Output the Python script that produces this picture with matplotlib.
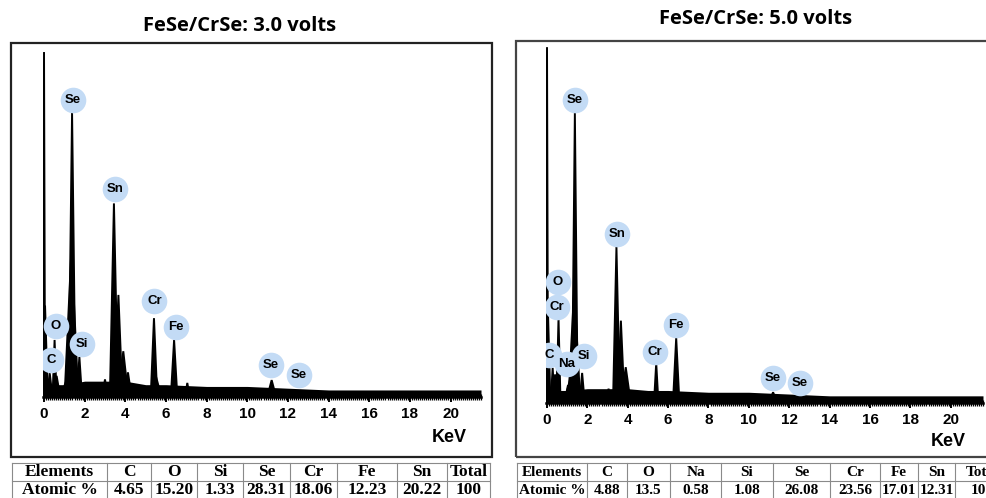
"""EDS spectra of FeSe/CrSe at two bias voltages, with atomic % tables."""

import matplotlib.pyplot as plt
from matplotlib.patches import Rectangle
from matplotlib.lines import Line2D
from matplotlib.ticker import MultipleLocator

W, H = 987, 498

# ---- data: 3.0 V spectrum ------------------------------------------------
peaks_3v_energy = [0.0, 0.05, 0.28, 0.52, 0.62, 1.25, 1.35, 1.38, 1.74, 3.0,
                   3.44, 3.66, 3.9, 4.13, 5.41, 5.5, 6.40, 7.05, 11.2, 12.5]
peaks_3v_height = [98, 26, 6.8, 16.2, 6, 7, 42, 80.7, 11.4, 5,
                   55, 29, 13, 7, 22.4, 6, 16.2, 4, 4.8, 1.5]
peaks_3v_width = [0.05, 0.14, 0.14, 0.1, 0.18, 0.45, 0.34, 0.17, 0.13, 0.14,
                  0.2, 0.2, 0.25, 0.18, 0.16, 0.28, 0.16, 0.12, 0.22, 0.18]
bg_3v_energy = [0, 0.2, 1, 2, 3, 4, 5, 6, 8, 10, 12, 14, 21.5]
bg_3v_level = [3, 3.5, 3.5, 4.5, 4.5, 4.5, 3.5, 3.5, 3, 3, 2.5, 2, 2]

labels_3v_text = ["Se", "Sn", "Cr", "Fe", "O", "Si", "C", "Se", "Se"]
labels_3v_x = [1.43, 3.51, 5.43, 6.47, 0.59, 1.88, 0.35, 11.16, 12.54]
labels_3v_y = [84.4, 59.0, 27.3, 19.9, 20.2, 15.1, 10.5, 9.1, 6.2]

# ---- data: 5.0 V spectrum ------------------------------------------------
peaks_5v_energy = [0.0, 0.05, 0.28, 0.4, 0.52, 0.57, 1.04, 1.2, 1.35, 1.38,
                   1.74, 3.05, 3.44, 3.66, 3.9, 5.41, 5.95, 6.40, 7.06, 11.2, 12.5]
peaks_5v_height = [99.4, 25, 9.8, 8, 10, 23.7, 5, 8, 32, 81,
                   8.4, 4, 43.6, 23, 10, 11.2, 3, 18.2, 3, 3, 1.5]
peaks_5v_width = [0.05, 0.12, 0.1, 0.1, 0.12, 0.1, 0.18, 0.35, 0.3, 0.14,
                  0.13, 0.12, 0.17, 0.18, 0.25, 0.11, 0.12, 0.16, 0.12, 0.22, 0.15]
bg_5v_energy = [0, 0.2, 1, 2, 3, 4, 5, 6, 8, 10, 12, 14, 21.6]
bg_5v_level = [3, 3.5, 3.5, 4, 4, 4, 3.5, 3.5, 3, 3, 2.5, 2, 2]

labels_5v_text = ["Se", "Sn", "O", "Cr", "C", "Na", "Si", "Cr", "Fe", "Se", "Se"]
labels_5v_x = [1.39, 3.47, 0.54, 0.50, 0.10, 0.99, 1.83, 5.35, 6.39, 11.19, 12.52]
labels_5v_y = [84.6, 47.2, 33.8, 26.8, 13.4, 10.9, 13.1, 14.2, 21.8, 7.0, 5.6]

# ---- data: composition tables -------------------------------------------
table_3v_header = ["Elements", "C", "O", "Si", "Se", "Cr", "Fe", "Sn", "Total"]
table_3v_values = ["Atomic %", "4.65", "15.20", "1.33", "28.31", "18.06",
                   "12.23", "20.22", "100"]
table_5v_header = ["Elements", "C", "O", "Na", "Si", "Se", "Cr", "Fe", "Sn", "Total"]
table_5v_values = ["Atomic %", "4.88", "13.5", "0.58", "1.08", "26.08", "23.56",
                   "17.01", "12.31", "100"]

BUBBLE = "#c3dbf5"


def fx(px):
    return px / W


def fy(py):
    return 1 - py / H


def draw_spectrum(fig, box, xmax, energy, height, width, bg_e, bg_l,
                  lab_text, lab_x, lab_y):
    left, top, right, bottom = box
    ax = fig.add_axes([fx(left), fy(bottom), fx(right - left), fy(top) - fy(bottom)])
    ax.set_xlim(-0.05, xmax)
    ax.set_ylim(0, 100)
    ax.fill_between(bg_e, 0, bg_l, color="black", lw=0)
    for e, h, w in zip(energy, height, width):
        ax.fill([e - w, e, e + w], [0, h, 0], color="black", lw=1.4,
                joinstyle="miter")
    ax.scatter(lab_x, lab_y, s=340, color=BUBBLE, zorder=3, lw=0)
    for t, x, y in zip(lab_text, lab_x, lab_y):
        ax.text(x, y, t, ha="center", va="center", fontsize=9.5,
                fontweight="bold", family="Liberation Sans", zorder=4)
    for side in ("left", "right", "top"):
        ax.spines[side].set_visible(False)
    ax.spines["bottom"].set_linewidth(1.8)
    ax.set_yticks([])
    ax.xaxis.set_major_locator(MultipleLocator(2))
    ax.xaxis.set_minor_locator(MultipleLocator(0.1))
    ax.tick_params(axis="x", which="major", direction="inout", length=7, width=1.4,
                   pad=4, labelsize=11)
    ax.tick_params(axis="x", which="minor", direction="inout", length=4.5, width=0.9)
    for lab in ax.get_xticklabels():
        lab.set_fontweight("bold")
        lab.set_family("Liberation Sans")
    ax.patch.set_alpha(0)
    return ax


def draw_table(fig, edges, top, row_h, header, values, size):
    rows = [header, values]
    color = "#8a8a8a"
    for y in (top, top + row_h, top + 2 * row_h):
        fig.add_artist(Line2D([fx(edges[0]), fx(edges[-1])], [fy(y), fy(y)],
                              color=color, lw=0.8))
    for x in edges:
        fig.add_artist(Line2D([fx(x), fx(x)], [fy(top), fy(top + 2 * row_h)],
                              color=color, lw=0.8))
    for r, row in enumerate(rows):
        yc = top + row_h * (r + 0.5)
        for i, txt in enumerate(row):
            xc = (edges[i] + edges[i + 1]) / 2
            fig.text(fx(xc), fy(yc), txt, ha="center", va="center", fontsize=size,
                     fontweight="bold", family="Liberation Serif")


fig = plt.figure(figsize=(W / 100, H / 100), dpi=100)

# panel frames
fig.add_artist(Rectangle((fx(11), fy(457)), fx(492 - 11), fy(43) - fy(457),
                         fill=False, lw=1.6, ec="#222222"))
fig.add_artist(Rectangle((fx(516), fy(457)), fx(1000 - 516), fy(41) - fy(457),
                         fill=False, lw=1.6, ec="#444444"))

fig.text(fx(240), fy(26), "FeSe/CrSe: 3.0 volts", ha="center", va="center",
         fontsize=14.5, fontweight="bold", family="Open Sans")
fig.text(fx(756), fy(19), "FeSe/CrSe: 5.0 volts", ha="center", va="center",
         fontsize=14.5, fontweight="bold", family="Open Sans")

ax1 = draw_spectrum(fig, (43, 45, 481, 397), 21.5, peaks_3v_energy, peaks_3v_height,
                    peaks_3v_width, bg_3v_energy, bg_3v_level,
                    labels_3v_text, labels_3v_x, labels_3v_y)
ax2 = draw_spectrum(fig, (546, 45, 983, 403), 21.6, peaks_5v_energy, peaks_5v_height,
                    peaks_5v_width, bg_5v_energy, bg_5v_level,
                    labels_5v_text, labels_5v_x, labels_5v_y)

fig.text(fx(449), fy(437), "KeV", ha="center", va="center", fontsize=13,
         fontweight="bold", family="Liberation Sans")
fig.text(fx(948), fy(441), "KeV", ha="center", va="center", fontsize=13,
         fontweight="bold", family="Liberation Sans")

draw_table(fig, [12, 107, 151, 197, 243, 290, 337, 397, 447, 490], 463, 18,
           table_3v_header, table_3v_values, 12.5)
draw_table(fig, [517, 587, 627, 670, 721, 773, 830, 880, 918, 955, 1010], 463, 18,
           table_5v_header, table_5v_values, 11)

fig.savefig("out.png", dpi=100)
